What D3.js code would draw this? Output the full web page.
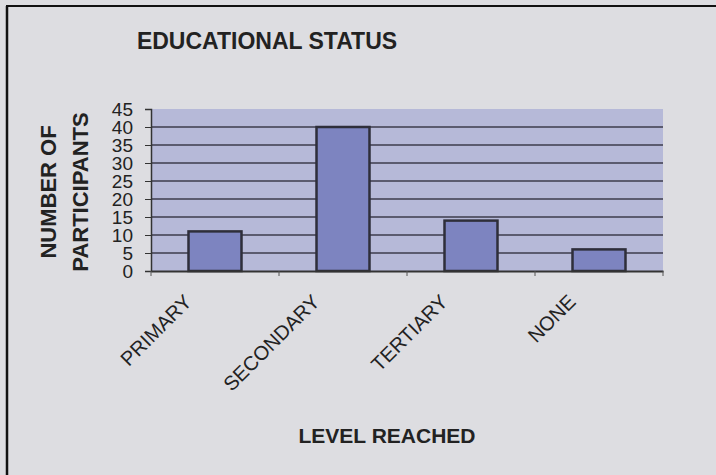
<!DOCTYPE html>
<html>
<head>
<meta charset="utf-8">
<script src="https://cdn.jsdelivr.net/npm/d3@7"></script>
<style>
  body { margin: 0; background: #dddde1; }
  svg { display: block; font-family: "Liberation Sans", Arial, sans-serif; }
</style>
</head>
<body>
<svg id="chart" width="716" height="475"></svg>
<script>
const categories = ["PRIMARY", "SECONDARY", "TERTIARY", "NONE"];
const participants = [11, 40, 14, 6];
const yTicks = [0, 5, 10, 15, 20, 25, 30, 35, 40, 45];

const svg = d3.select("#chart");
const plot = { left: 151, right: 663, top: 109, bottom: 271 };

// background + frame
svg.append("rect").attr("width", 716).attr("height", 475).attr("fill", "#dddde1");
svg.append("line").attr("x1", 6).attr("x2", 716).attr("y1", 6).attr("y2", 6)
  .attr("stroke", "#111").attr("stroke-width", 2);
svg.append("line").attr("x1", 7).attr("x2", 7).attr("y1", 6).attr("y2", 475)
  .attr("stroke", "#111").attr("stroke-width", 2.5);

const x = d3.scaleBand()
  .domain(categories)
  .range([plot.left, plot.right])
  .paddingInner(0.586)
  .paddingOuter(0.293);

const y = d3.scaleLinear()
  .domain([0, 45])
  .range([plot.bottom, plot.top]);

// plot area
svg.append("rect")
  .attr("x", plot.left).attr("y", plot.top)
  .attr("width", plot.right - plot.left).attr("height", plot.bottom - plot.top)
  .attr("fill", "#b6b9d8");

// gridlines
svg.append("g").selectAll("line")
  .data(yTicks.filter(d => d > 0 && d < 45))
  .join("line")
  .attr("x1", plot.left).attr("x2", plot.right)
  .attr("y1", d => y(d)).attr("y2", d => y(d))
  .attr("stroke", "#3c3c4c").attr("stroke-width", 1.5);

// bars
svg.append("g").selectAll("rect")
  .data(participants)
  .join("rect")
  .attr("x", (d, i) => x(categories[i]))
  .attr("y", d => y(d))
  .attr("width", x.bandwidth())
  .attr("height", d => y(0) - y(d))
  .attr("fill", "#7d84c0")
  .attr("stroke", "#2e2e3a")
  .attr("stroke-width", 2.5);

// y axis
const yAxis = svg.append("g")
  .attr("transform", `translate(${plot.left},0)`)
  .call(d3.axisLeft(y).tickValues(yTicks).tickSize(6).tickPadding(12));
yAxis.select(".domain").attr("stroke", "#333").attr("stroke-width", 1.5);
yAxis.selectAll(".tick line").attr("stroke", "#333");
yAxis.selectAll("text").attr("font-size", 19).attr("fill", "#222");

// x axis
const xAxis = svg.append("g")
  .attr("transform", `translate(0,${plot.bottom})`)
  .call(d3.axisBottom(x).tickSize(0).tickFormat(""));
xAxis.select(".domain").attr("stroke", "#333").attr("stroke-width", 2);

// category boundary ticks
const step = x.step();
svg.append("g").selectAll("line")
  .data(d3.range(categories.length + 1))
  .join("line")
  .attr("x1", i => plot.left + i * step).attr("x2", i => plot.left + i * step)
  .attr("y1", plot.bottom).attr("y2", plot.bottom + 5)
  .attr("stroke", "#555");

// rotated category labels
svg.append("g").selectAll("text")
  .data(categories)
  .join("text")
  .attr("transform", d => `translate(${x(d) + x.bandwidth() / 2 - 22},${plot.bottom + 32}) rotate(-45)`)
  .attr("text-anchor", "end")
  .attr("font-size", 20)
  .attr("fill", "#222")
  .text(d => d);

// titles
svg.append("text")
  .attr("x", 267).attr("y", 49)
  .attr("text-anchor", "middle")
  .attr("font-size", 23).attr("font-weight", "bold").attr("fill", "#222")
  .text("EDUCATIONAL STATUS");

svg.append("text")
  .attr("x", 387).attr("y", 443)
  .attr("text-anchor", "middle")
  .attr("font-size", 21).attr("font-weight", "bold").attr("fill", "#222")
  .text("LEVEL REACHED");

const yTitle = svg.append("text")
  .attr("transform", "translate(56,192) rotate(-90)")
  .attr("text-anchor", "middle")
  .attr("font-size", 22).attr("font-weight", "bold").attr("fill", "#222");
yTitle.append("tspan").attr("x", 0).attr("dy", 0).text("NUMBER OF");
yTitle.append("tspan").attr("x", 0).attr("dy", 32).text("PARTICIPANTS");
</script>
</body>
</html>
